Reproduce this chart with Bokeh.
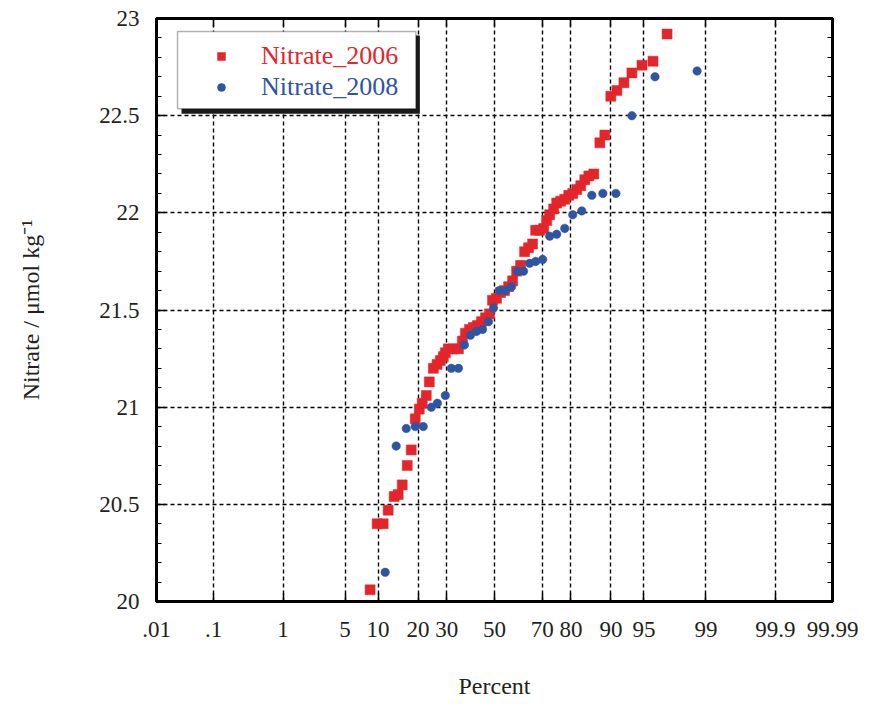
from statistics import NormalDist
from bokeh.plotting import figure
from bokeh.models import (Range1d, LinearAxis, FixedTicker, Grid,
                          Legend, LegendItem, BoxAnnotation, ColumnDataSource)
from bokeh.embed import file_html
from bokeh.resources import INLINE

# ---------------- data ----------------
pct_2006 = [8.55, 9.83, 11.03, 12.10, 13.48, 14.46, 15.50, 16.85, 17.98, 19.16,
            20.39, 21.33, 22.64, 23.66, 25.05, 26.37, 27.56, 28.67, 29.43, 30.57,
            32.53, 34.57, 36.20, 37.45, 39.13, 40.83, 42.55, 44.31, 46.06, 47.81,
            49.12, 50.88, 52.63, 54.38, 56.16, 57.89, 59.60, 61.29, 62.97, 64.62,
            66.24, 67.47, 69.04, 70.57, 71.70, 72.81, 74.25, 75.31, 76.67, 78.02,
            79.30, 80.54, 81.73, 82.87, 83.97, 85.03, 86.28, 87.68, 88.76, 89.97,
            91.10, 92.28, 93.47, 94.77, 95.94, 97.12]
no3_2006 = [20.06, 20.40, 20.40, 20.47, 20.54, 20.55, 20.60, 20.70, 20.78, 20.94,
            20.99, 21.02, 21.06, 21.13, 21.20, 21.22, 21.24, 21.26, 21.28, 21.30,
            21.30, 21.30, 21.34, 21.38, 21.40, 21.41, 21.42, 21.44, 21.46, 21.48,
            21.55, 21.56, 21.59, 21.60, 21.62, 21.65, 21.70, 21.73, 21.80, 21.82,
            21.84, 21.91, 21.91, 21.92, 21.96, 21.99, 22.02, 22.05, 22.06, 22.07,
            22.09, 22.10, 22.12, 22.14, 22.17, 22.19, 22.20, 22.36, 22.40, 22.60,
            22.63, 22.67, 22.72, 22.76, 22.78, 22.92]

pct_2008 = [11.45, 13.97, 16.57, 19.16, 21.65, 24.35, 26.47, 29.43, 31.74, 34.57,
            37.03, 39.55, 42.11, 44.75, 47.37, 49.56, 52.19, 54.82, 57.45, 60.03,
            62.55, 65.03, 67.47, 70.19, 72.81, 75.31, 78.02, 80.54, 83.15, 85.79,
            88.34, 90.92, 93.47, 96.13, 98.71]
no3_2008 = [20.15, 20.80, 20.89, 20.90, 20.90, 21.00, 21.02, 21.06, 21.20, 21.20,
            21.32, 21.37, 21.39, 21.40, 21.44, 21.51, 21.60, 21.60, 21.62, 21.70,
            21.70, 21.74, 21.75, 21.76, 21.88, 21.89, 21.92, 21.99, 22.01, 22.09,
            22.10, 22.10, 22.50, 22.70, 22.73]

tick_pct = [0.01, 0.1, 1, 5, 10, 20, 30, 50, 70, 80, 90, 95, 99, 99.9, 99.99]
tick_labels = [".01", ".1", "1", "5", "10", "20", "30", "50", "70", "80",
               "90", "95", "99", "99.9", "99.99"]
y_ticks = [20.0, 20.5, 21.0, 21.5, 22.0, 22.5, 23.0]
y_labels = ["20", "20.5", "21", "21.5", "22", "22.5", "23"]

# ---------------- styling ----------------
RED = "#E3262B"
BLUE = "#2E54A4"
TXT = "#231F20"
FONT = "Liberation Serif"

nd = NormalDist()
def probit(p):
    return nd.inv_cdf(p / 100.0)

X0, X1 = probit(tick_pct[0]), probit(tick_pct[-1])
Y0, Y1 = y_ticks[0], y_ticks[-1]

p = figure(width=867, height=701, output_backend="svg", toolbar_location=None,
           x_range=Range1d(X0, X1), y_range=Range1d(Y0, Y1),
           x_axis_type=None, y_axis_type=None,
           min_border_left=156, min_border_right=35, min_border_top=18,
           min_border_bottom=100)
p.background_fill_color = "white"
p.border_fill_color = "white"
p.outline_line_color = "black"
p.outline_line_width = 3

tick_z = [probit(v) for v in tick_pct]
y_minor = [round(20 + 0.1 * i, 1) for i in range(31)]

def style_axis(ax):
    ax.axis_line_width = 3
    ax.axis_line_color = "black"
    ax.major_tick_out = 0
    ax.minor_tick_out = 0
    ax.major_tick_line_color = "black"
    ax.minor_tick_line_color = "black"
    ax.major_tick_line_width = 1.5
    ax.minor_tick_line_width = 1.2
    ax.major_label_text_font = FONT
    ax.major_label_text_font_size = "23px"
    ax.major_label_text_color = TXT
    ax.axis_label_text_font = FONT
    ax.axis_label_text_font_size = "24px"
    ax.axis_label_text_font_style = "normal"
    ax.axis_label_text_color = TXT

# x axes (probability scale)
for place in ("below", "above"):
    labels = tick_labels if place == "below" else [""] * len(tick_labels)
    ax = LinearAxis(ticker=FixedTicker(ticks=tick_z),
                    major_label_overrides={z: s for z, s in zip(tick_z, labels)})
    style_axis(ax)
    ax.major_tick_in = 8
    ax.minor_tick_in = 0
    if place == "below":
        ax.axis_label = "Percent"
        ax.major_label_standoff = 20
        ax.axis_label_standoff = 33
    else:
        ax.major_label_standoff = 0
    p.add_layout(ax, place)

# y axes
for place in ("left", "right"):
    labels = y_labels if place == "left" else [""] * len(y_labels)
    ax = LinearAxis(ticker=FixedTicker(ticks=y_ticks, minor_ticks=y_minor),
                    major_label_overrides={t: s for t, s in zip(y_ticks, labels)})
    style_axis(ax)
    ax.major_tick_in = 9
    ax.minor_tick_in = 5
    if place == "left":
        ax.axis_label = "Nitrate / μmol kg⁻¹"
        ax.major_label_standoff = 17
        ax.axis_label_standoff = 52
    else:
        ax.major_label_standoff = 0
    p.add_layout(ax, place)

# grid
xg = Grid(dimension=0, ticker=FixedTicker(ticks=tick_z[1:-1]))
yg = Grid(dimension=1, ticker=FixedTicker(ticks=y_ticks[1:-1]))
for g in (xg, yg):
    g.grid_line_color = "black"
    g.grid_line_width = 1.4
    g.grid_line_dash = "4 3"
    p.add_layout(g)

# data
src06 = ColumnDataSource(dict(z=[probit(v) for v in pct_2006], v=no3_2006))
src08 = ColumnDataSource(dict(z=[probit(v) for v in pct_2008], v=no3_2008))
r06 = p.scatter("z", "v", source=src06, marker="square", size=10,
                fill_color=RED, line_color=RED, line_width=0.5)
r08 = p.scatter("z", "v", source=src08, marker="circle", size=8.5,
                fill_color=BLUE, line_color=BLUE, line_width=0.5)

# legend box (frame-pixel geometry converted to data space)
FW, FH = 675.0, 582.0
def fx(px):
    return X0 + (X1 - X0) * px / FW
def fy(py):
    return Y0 + (Y1 - Y0) * py / FH

shadow = BoxAnnotation(left=fx(25), right=fx(263), bottom=fy(487), top=fy(565),
                       fill_color="#1a1a1a", fill_alpha=1.0, line_alpha=0,
                       level="annotation")
box = BoxAnnotation(left=fx(21), right=fx(259), bottom=fy(492), top=fy(569),
                    fill_color="white", fill_alpha=1.0, line_color="black",
                    line_width=1.5, level="annotation")
p.add_layout(shadow)
p.add_layout(box)

def make_legend(label, rend, color, loc):
    return Legend(items=[LegendItem(label=label, renderers=[rend])],
                  location=loc, orientation="vertical", padding=0, margin=0,
                  spacing=0, glyph_width=20, glyph_height=30, label_height=30,
                  label_standoff=30, label_text_font=FONT,
                  label_text_font_size="26px", label_text_color=color,
                  border_line_alpha=0, background_fill_alpha=0, level="overlay")

p.add_layout(make_legend("Nitrate_2006", r06, RED, (55, 530)))
p.add_layout(make_legend("Nitrate_2008", r08, BLUE, (55, 499)))

open("out.html", "w").write(file_html(p, INLINE))
